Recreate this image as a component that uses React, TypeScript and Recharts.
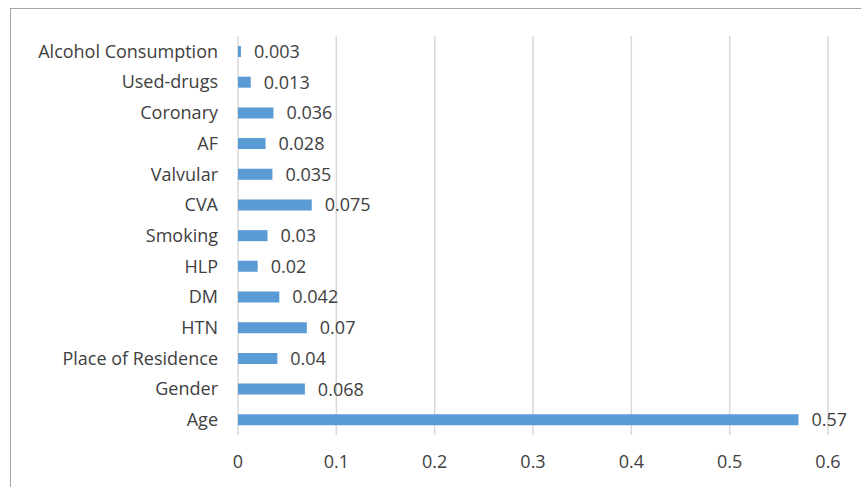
import React from 'react';
import { BarChart, Bar, XAxis, YAxis, CartesianGrid, LabelList } from 'recharts';

const factors = [
  'Alcohol Consumption',
  'Used-drugs',
  'Coronary',
  'AF',
  'Valvular',
  'CVA',
  'Smoking',
  'HLP',
  'DM',
  'HTN',
  'Place of Residence',
  'Gender',
  'Age',
];
const importance = [0.003, 0.013, 0.036, 0.028, 0.035, 0.075, 0.03, 0.02, 0.042, 0.07, 0.04, 0.068, 0.57];
const xTicks = [0, 0.1, 0.2, 0.3, 0.4, 0.5, 0.6];

const data = factors.map((name, i) => ({ name, value: importance[i] }));

const FONT = '"Open Sans", "Noto Sans", sans-serif';
const TEXT = '#404040';

export default function App() {
  return (
    <div style={{ position: 'absolute', left: 0, top: 0, width: 861, height: 487, overflow: 'hidden', background: '#fff' }}>
      <div
        style={{
          position: 'absolute',
          left: 10,
          top: 8,
          width: 900,
          height: 520,
          border: '1.5px solid #a6a6a6',
        }}
      />
      <div style={{ position: 'absolute', left: 0, top: 0 }}>
        <BarChart
          width={861}
          height={487}
          layout="vertical"
          data={data}
          margin={{ top: 36, right: 33, bottom: 0, left: 0 }}
          barCategoryGap={0}
          style={{ fontFamily: FONT }}
        >
          <CartesianGrid horizontal={false} stroke="#d9d9d9" strokeWidth={1.5} />
          <XAxis
            type="number"
            domain={[0, 0.6]}
            ticks={xTicks}
            tickFormatter={(v: number) => String(v)}
            axisLine={false}
            tickLine={false}
            height={52}
            tickMargin={14}
            tick={{ fill: TEXT, fontSize: 18 }}
          />
          <YAxis
            type="category"
            dataKey="name"
            width={238}
            axisLine={false}
            tickLine={false}
            tickMargin={14}
            interval={0}
            tick={{ fill: TEXT, fontSize: 18 }}
          />
          <Bar dataKey="value" fill="#5b9bd5" barSize={11} isAnimationActive={false}>
            <LabelList dataKey="value" position="right" offset={13} fill={TEXT} fontSize={18} />
          </Bar>
        </BarChart>
      </div>
    </div>
  );
}
